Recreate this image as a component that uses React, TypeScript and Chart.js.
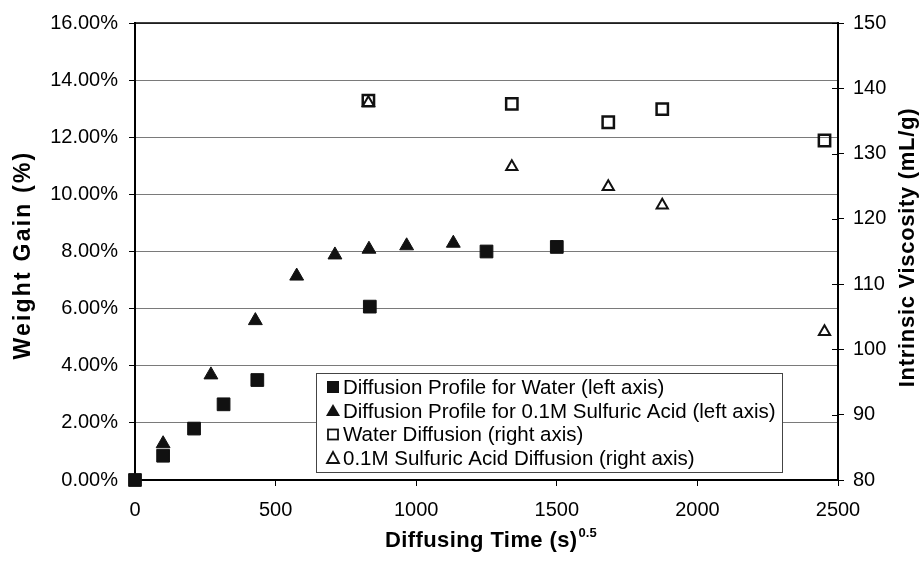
import React, { useEffect, useRef } from 'react';
import { Chart, registerables } from 'chart.js';

Chart.register(...registerables);

// ---- Data ----
const waterTime = [0, 100, 210, 315, 435, 835, 1250, 1500];
const waterGain = [0, 0.85, 1.8, 2.65, 3.5, 6.07, 8.0, 8.16];

const acidTime = [100, 270, 428, 575, 711, 832, 966, 1132];
const acidGain = [1.27, 3.68, 5.58, 7.14, 7.88, 8.08, 8.2, 8.29];

const waterViscTime = [830, 1340, 1683, 1875, 2452];
const waterVisc = [138.1, 137.6, 134.8, 136.8, 132.0];

const acidViscTime = [830, 1340, 1683, 1875, 2452];
const acidVisc = [137.8, 128.0, 124.9, 122.1, 102.7];

const legendLabels = [
  'Diffusion Profile for Water (left axis)',
  'Diffusion Profile for 0.1M Sulfuric Acid (left axis)',
  'Water Diffusion (right axis)',
  '0.1M Sulfuric Acid Diffusion (right axis)',
];
const xTitle = 'Diffusing Time (s)';
const xTitleSup = '0.5';
const yTitle = 'Weight Gain (%)';
const y1Title = 'Intrinsic Viscosity (mL/g)';

const FONT = "'Liberation Sans', Arial, Helvetica, sans-serif";

function pts(xs: number[], ys: number[]) {
  return xs.map((x, i) => ({ x, y: ys[i] }));
}

const overlay = {
  id: 'overlay',
  afterDraw(chart: any) {
    const ctx: CanvasRenderingContext2D = chart.ctx;
    const a = chart.chartArea;
    ctx.save();
    // top border
    ctx.strokeStyle = '#000';
    ctx.lineWidth = 1.5;
    ctx.beginPath();
    ctx.moveTo(a.left, a.top);
    ctx.lineTo(a.right + 1, a.top);
    ctx.stroke();

    // right axis inner tick marks
    const y1 = chart.scales.y1;
    ctx.lineWidth = 1;
    y1.ticks.forEach((t: any) => {
      const py = Math.round(y1.getPixelForValue(t.value)) + 0.5;
      ctx.beginPath();
      ctx.moveTo(a.right - 6, py);
      ctx.lineTo(a.right, py);
      ctx.stroke();
    });

    // legend
    const lx = 316, ly = 373, lw = 466, lh = 99;
    ctx.fillStyle = '#fff';
    ctx.fillRect(lx, ly, lw, lh);
    ctx.strokeStyle = '#444';
    ctx.lineWidth = 1;
    ctx.strokeRect(lx + 0.5, ly + 0.5, lw, lh);
    const rows = [387, 411, 434.5, 458];
    const mx = 333;
    ctx.font = `20.5px ${FONT}`;
    ctx.textAlign = 'left';
    ctx.textBaseline = 'middle';
    legendLabels.forEach((lab, i) => {
      const cy = rows[i];
      ctx.fillStyle = '#111';
      ctx.strokeStyle = '#111';
      if (i === 0) {
        ctx.fillRect(mx - 6, cy - 6, 12, 12);
      } else if (i === 1) {
        ctx.beginPath();
        ctx.moveTo(mx, cy - 7);
        ctx.lineTo(mx + 7, cy + 5);
        ctx.lineTo(mx - 7, cy + 5);
        ctx.closePath();
        ctx.fill();
      } else if (i === 2) {
        ctx.lineWidth = 1.8;
        ctx.strokeRect(mx - 5, cy - 5, 10, 10);
      } else {
        ctx.lineWidth = 1.8;
        ctx.beginPath();
        ctx.moveTo(mx, cy - 6);
        ctx.lineTo(mx + 6, cy + 5);
        ctx.lineTo(mx - 6, cy + 5);
        ctx.closePath();
        ctx.stroke();
      }
      ctx.fillStyle = '#000';
      ctx.fillText(lab, 343, cy + 1);
    });

    // axis titles
    ctx.fillStyle = '#000';
    // bottom
    ctx.font = `bold 22px ${FONT}`;
    (ctx as any).letterSpacing = '0.4px';
    ctx.textAlign = 'left';
    ctx.textBaseline = 'alphabetic';
    ctx.fillText(xTitle, 385, 547);
    const w = ctx.measureText(xTitle).width;
    ctx.font = `bold 13px ${FONT}`;
    (ctx as any).letterSpacing = '0px';
    ctx.fillText(xTitleSup, 385 + w + 1, 537);

    // left
    ctx.save();
    ctx.translate(23.5, 255);
    ctx.rotate(-Math.PI / 2);
    ctx.font = `bold 23px ${FONT}`;
    (ctx as any).letterSpacing = '2.2px';
    ctx.textAlign = 'center';
    ctx.textBaseline = 'middle';
    ctx.fillText(yTitle, 0, 0);
    ctx.restore();

    // right
    ctx.save();
    ctx.translate(907.5, 247.5);
    ctx.rotate(-Math.PI / 2);
    ctx.font = `bold 22px ${FONT}`;
    (ctx as any).letterSpacing = '0.7px';
    ctx.textAlign = 'center';
    ctx.textBaseline = 'middle';
    ctx.fillText(y1Title, 0, 0);
    ctx.restore();

    ctx.restore();
  },
};

export default function App() {
  const ref = useRef<HTMLCanvasElement | null>(null);

  useEffect(() => {
    document.body.style.margin = '0';
    const canvas = ref.current;
    if (!canvas) return;
    const tickFont = { family: FONT, size: 20 };
    const chart = new Chart(canvas, {
      type: 'scatter',
      data: {
        datasets: [
          {
            label: legendLabels[0],
            data: pts(waterTime, waterGain),
            yAxisID: 'y',
            pointStyle: 'rect',
            pointRadius: 9,
            backgroundColor: '#111',
            borderColor: '#111',
            borderWidth: 1,
            clip: false,
          },
          {
            label: legendLabels[1],
            data: pts(acidTime, acidGain),
            yAxisID: 'y',
            pointStyle: 'triangle',
            pointRadius: 8,
            backgroundColor: '#111',
            borderColor: '#111',
            borderWidth: 1,
            clip: false,
          },
          {
            label: legendLabels[2],
            data: pts(waterViscTime, waterVisc),
            yAxisID: 'y1',
            pointStyle: 'rect',
            pointRadius: 8,
            backgroundColor: 'rgba(0,0,0,0)',
            borderColor: '#111',
            borderWidth: 2.5,
            clip: false,
          },
          {
            label: legendLabels[3],
            data: pts(acidViscTime, acidVisc),
            yAxisID: 'y1',
            pointStyle: 'triangle',
            pointRadius: 6.5,
            backgroundColor: 'rgba(0,0,0,0)',
            borderColor: '#111',
            borderWidth: 2,
            clip: false,
          },
        ],
      },
      options: {
        animation: false,
        responsive: false,
        devicePixelRatio: 1,
        layout: { padding: { top: 21, left: 0, right: 0, bottom: 0 } },
        plugins: {
          legend: { display: false },
          tooltip: { enabled: false },
        },
        scales: {
          x: {
            type: 'linear',
            min: 0,
            max: 2500,
            ticks: {
              stepSize: 500,
              font: tickFont,
              color: '#000',
              padding: 12,
              callback: (v: any) => String(v),
            },
            grid: { drawOnChartArea: false, drawTicks: true, tickLength: 6, tickColor: '#000' },
            border: { color: '#000', width: 2 },
            afterFit: (s: any) => { s.height = 82; },
          },
          y: {
            type: 'linear',
            position: 'left',
            min: 0,
            max: 16,
            ticks: {
              stepSize: 2,
              font: tickFont,
              color: '#000',
              padding: 11,
              callback: (v: any) => Number(v).toFixed(2) + '%',
            },
            grid: { color: '#7a7a7a', lineWidth: 1, tickLength: 6, tickColor: '#000' },
            border: { color: '#000', width: 2 },
            afterFit: (s: any) => { s.width = 135; },
          },
          y1: {
            type: 'linear',
            position: 'right',
            min: 80,
            max: 150,
            ticks: { stepSize: 10, font: tickFont, color: '#000', padding: 9, callback: (v: any) => String(v) },
            grid: { drawOnChartArea: false, tickLength: 6, tickColor: '#000' },
            border: { color: '#000', width: 2 },
            afterFit: (s: any) => { s.width = 83; },
          },
        },
      },
      plugins: [overlay],
    } as any);
    return () => chart.destroy();
  }, []);

  return <canvas ref={ref} width={921} height={562} style={{ display: 'block' }} />;
}
